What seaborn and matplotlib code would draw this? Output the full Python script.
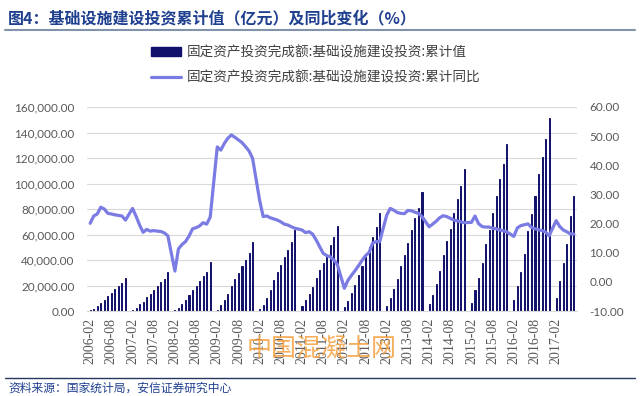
import matplotlib
matplotlib.use("Agg")
import matplotlib.pyplot as plt
import seaborn as sns
import pandas as pd
from matplotlib.lines import Line2D
from matplotlib.patches import Patch
from matplotlib.ticker import FixedLocator, FuncFormatter

# ---------------- data ----------------
years = [2006, 2007, 2008, 2009, 2010, 2011, 2012, 2013, 2014, 2015, 2016, 2017]
months_full = [2, 3, 4, 5, 6, 7, 8, 9, 10, 11, 12]
months_2017 = [2, 3, 4, 5, 6, 7]

# 累计值 (亿元), Feb..Dec of each year
cum_2006 = [800, 1800, 3900, 6600, 8800, 11800, 14400, 17000, 19400, 22200, 26100]
cum_2007 = [800, 2300, 5100, 7000, 11200, 13600, 16700, 19700, 22600, 25200, 30600]
cum_2008 = [800, 2600, 5200, 8800, 12800, 16500, 19300, 23800, 27200, 30800, 38400]
cum_2009 = [1000, 4700, 8600, 13200, 19300, 25000, 29800, 35000, 40000, 45400, 54400]
cum_2010 = [1300, 4700, 10000, 16500, 24300, 30800, 36100, 42600, 47800, 54400, 63500]
cum_2011 = [3600, 8600, 13300, 19100, 25600, 32200, 37900, 43900, 51800, 58300, 66700]
cum_2012 = [3400, 7800, 13900, 20400, 28200, 35300, 42600, 50400, 58300, 65600, 76600]
cum_2013 = [4200, 10400, 17000, 25100, 35500, 43900, 53100, 63500, 72700, 80500, 93100]
cum_2014 = [5500, 12500, 20900, 31400, 43900, 55100, 64300, 76600, 87600, 98000, 111100]
cum_2015 = [6500, 16500, 25600, 37400, 52400, 63800, 77100, 90300, 103300, 115600, 131200]
cum_2016 = [8600, 19900, 30300, 44700, 63000, 76100, 90400, 107200, 121000, 135200, 151100]
cum_2017 = [9900, 23300, 37400, 52500, 74300, 90200]

# 累计同比 (%)
yoy_2006 = [20.1, 22.6, 23.3, 25.6, 25.0, 23.5, 23.3, 23.0, 22.8, 22.6, 21.2]
yoy_2007 = [25.2, 22.5, 19.5, 17.0, 18.0, 17.4, 17.6, 17.4, 17.3, 16.8, 15.8]
yoy_2008 = [3.7, 11.3, 12.8, 13.8, 15.7, 18.2, 18.6, 19.2, 20.3, 19.8, 22.2]
yoy_2009 = [46.3, 45.2, 47.5, 49.3, 50.4, 49.6, 48.7, 47.8, 46.4, 44.9, 42.4]
yoy_2010 = [28.0, 22.4, 22.6, 22.0, 21.6, 21.2, 20.6, 19.8, 19.5, 18.9, 18.4]
yoy_2011 = [17.8, 16.9, 17.2, 16.4, 14.4, 12.1, 9.8, 9.0, 8.6, 7.5, 6.0]
yoy_2012 = [-2.2, 0.5, 2.2, 3.8, 5.5, 7.3, 9.0, 10.1, 13.3, 13.8, 13.8]
yoy_2013 = [22.9, 25.2, 24.6, 23.8, 23.5, 23.4, 24.5, 24.4, 23.9, 23.5, 22.4]
yoy_2014 = [18.9, 19.8, 20.8, 22.0, 22.7, 22.4, 21.8, 21.2, 20.9, 20.6, 20.3]
yoy_2015 = [20.4, 22.6, 20.0, 19.0, 18.8, 18.8, 18.4, 18.2, 17.8, 17.5, 17.2]
yoy_2016 = [15.6, 18.5, 19.3, 19.6, 19.9, 18.7, 18.2, 17.9, 17.6, 17.1, 15.8]
yoy_2017 = [21.0, 19.0, 17.8, 17.2, 16.5, 16.4]

cum_by_year = [cum_2006, cum_2007, cum_2008, cum_2009, cum_2010, cum_2011,
               cum_2012, cum_2013, cum_2014, cum_2015, cum_2016, cum_2017]
yoy_by_year = [yoy_2006, yoy_2007, yoy_2008, yoy_2009, yoy_2010, yoy_2011,
               yoy_2012, yoy_2013, yoy_2014, yoy_2015, yoy_2016, yoy_2017]

tick_labels = ["2006-02", "2006-08", "2007-02", "2007-08", "2008-02", "2008-08",
               "2009-02", "2009-08", "2010-02", "2010-08", "2011-02", "2011-08",
               "2012-02", "2012-08", "2013-02", "2013-08", "2014-02", "2014-08",
               "2015-02", "2015-08", "2016-02", "2016-08", "2017-02"]

bar_label = "固定资产投资完成额:基础设施建设投资:累计值"
line_label = "固定资产投资完成额:基础设施建设投资:累计同比"
title = "图4：基础设施建设投资累计值（亿元）及同比变化（%）"
source = "资料来源：国家统计局，安信证券研究中心"
watermark = "中国混凝土网"

rows = []
for y, cums, yoys in zip(years, cum_by_year, yoy_by_year):
    ms = months_2017 if y == 2017 else months_full
    for m, c, g in zip(ms, cums, yoys):
        rows.append({"date": f"{y}-{m:02d}", "pos": (y - 2006) * 12 + (m - 2),
                     "cum": c, "yoy": g})
df = pd.DataFrame(rows)

# ---------------- style ----------------
sns.set_theme(style="white")
plt.rcParams["font.family"] = ["Lato", "Noto Sans CJK SC", "DejaVu Sans"]
CJK = ["Noto Sans CJK SC", "DejaVu Sans"]

BAR = "#12126c"
LINE = "#7b7be4"
TICK = "#595959"

fig = plt.figure(figsize=(6.4, 3.96), dpi=100)
ax = fig.add_axes([87 / 640, 1 - 311 / 396, 490 / 640, 204 / 396])

sns.barplot(data=df, x="pos", y="cum", native_scale=True, width=0.3,
            color=BAR, saturation=1, errorbar=None, ax=ax, zorder=2,
            edgecolor=BAR, linewidth=0.7)
ax.set_ylim(0, 160000)
ax.set_xlim(-0.9, 137.9)
ax.yaxis.set_major_locator(FixedLocator(range(0, 160001, 20000)))
ax.yaxis.set_major_formatter(FuncFormatter(lambda v, p: f"{v:,.2f}"))
ax.yaxis.grid(True, color="#d9d9d9", linewidth=0.8)
ax.set_axisbelow(True)
ax.set_xticks(range(0, 133, 6))
ax.set_xticklabels(tick_labels, rotation=90, fontsize=10,
                   family=["Liberation Serif"], color=TICK)
ax.tick_params(axis="y", labelsize=8.5, colors=TICK, length=0, pad=9)
ax.tick_params(axis="x", length=0, pad=5)
ax.set_xlabel("")
ax.set_ylabel("")
for s in ["top", "left", "right"]:
    ax.spines[s].set_visible(False)
ax.spines["bottom"].set_color("#d9d9d9")
ax.spines["bottom"].set_linewidth(0.8)

ax2 = ax.twinx()
sns.lineplot(data=df, x="pos", y="yoy", color=LINE, linewidth=2.3, ax=ax2)
ax2.set_ylim(-10, 60)
ax2.set_xlim(-0.9, 137.9)
ax2.yaxis.set_major_locator(FixedLocator(range(-10, 61, 10)))
ax2.yaxis.set_major_formatter(FuncFormatter(lambda v, p: f"{v:.2f}"))
ax2.tick_params(axis="y", labelsize=8.5, colors=TICK, length=0, pad=9)
ax2.set_ylabel("")
ax2.set_xlabel("")
for s in ["top", "left", "right", "bottom"]:
    ax2.spines[s].set_visible(False)

# legend
handles = [Patch(facecolor=BAR, edgecolor=BAR),
           Line2D([0], [0], color=LINE, linewidth=2.3)]
fig.legend(handles, [bar_label, line_label], loc="upper left",
           bbox_to_anchor=(151 / 640, 1 - 45 / 396), frameon=False,
           prop={"family": CJK, "size": 9.8}, labelcolor="#404040",
           handlelength=2.2, handleheight=0.6, handletextpad=0.45,
           labelspacing=0.85, borderpad=0, borderaxespad=0)

# title and rules
fig.text(8 / 640, 1 - 18 / 396, title, ha="left", va="center", fontsize=11.5,
         fontweight="bold", color="#1f3f8f", family=CJK)
fig.add_artist(Line2D([5 / 640, 635 / 640], [1 - 30 / 396, 1 - 30 / 396],
                      color="#8393ab", linewidth=1.5))
fig.add_artist(Line2D([5 / 640, 635 / 640], [1 - 378 / 396, 1 - 378 / 396],
                      color="#27375f", linewidth=1.0))
fig.text(8 / 640, 1 - 388 / 396, source, ha="left", va="center", fontsize=8.5,
         color="#1f3f8f", family=CJK, style="italic")
fig.text(322 / 640, 1 - 350 / 396, watermark, ha="center", va="center",
         fontsize=18, color="#f5a040", alpha=0.85, family=CJK)

fig.savefig("out.png", dpi=100)
